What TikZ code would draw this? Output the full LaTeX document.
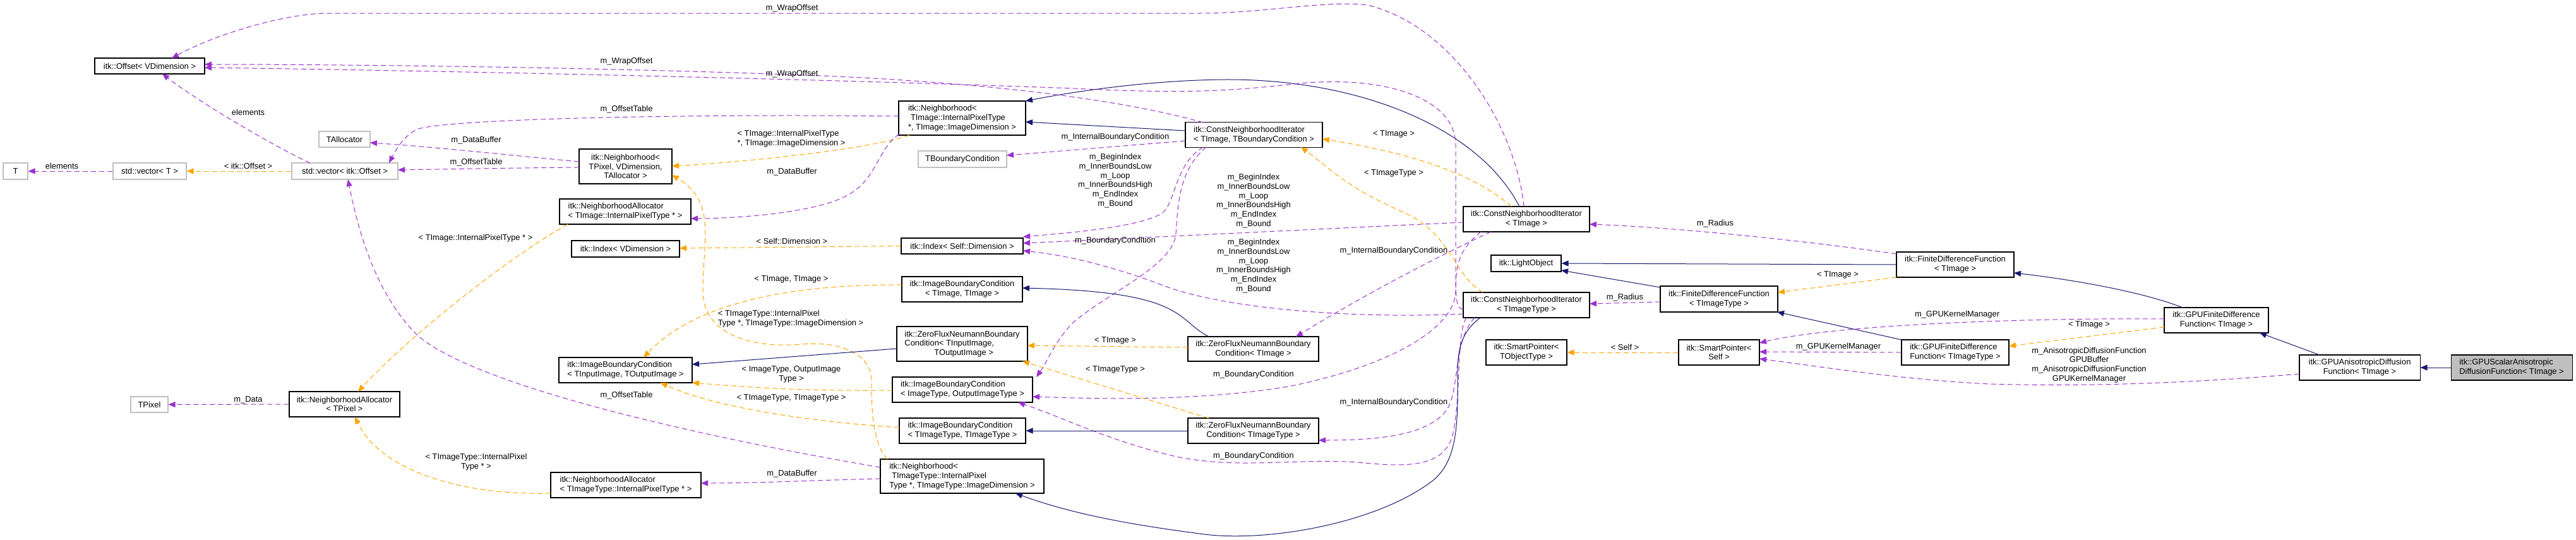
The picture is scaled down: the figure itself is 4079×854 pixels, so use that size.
\documentclass[tikz,border=0pt]{standalone}
\usepackage{fontspec}
\setmainfont{Liberation Sans}
\usetikzlibrary{arrows.meta}
\definecolor{pur}{HTML}{9A32CD}
\definecolor{org}{HTML}{FFA500}
\definecolor{nav}{HTML}{191970}
\definecolor{gry}{HTML}{BFBFBF}
\newcommand\dfont{\fontsize{12.9pt}{14.7pt}\selectfont}
\tikzset{
  box/.style={draw=black, line width=1.1pt, fill=white, inner sep=0pt, font=\dfont, align=center},
  lbox/.style={box, align=left},
  gbox/.style={box, draw=gry},
  fbox/.style={box, fill=gry, align=left},
  lab/.style={font=\dfont, inner sep=0pt, align=center},
  tip/.style={-{Triangle[length=11pt,width=9pt]}},
  inh/.style={draw=nav, line width=1pt, tip},
  use/.style={draw=pur, line width=1pt, dash pattern=on 8pt off 5pt, tip},
  tpl/.style={draw=org, line width=1pt, dash pattern=on 8pt off 5pt, tip},
}
\begin{document}
\begin{tikzpicture}[x=1pt,y=-1pt]
\useasboundingbox (0,0) rectangle (4079,854);
\fill[white] (0,0) rectangle (4079,854);
% ---------------- nodes
\node[box, minimum width=174pt, minimum height=25pt] (off) at (237,104.5) {itk::Offset< VDimension >};
\node[gbox, minimum width=81pt, minimum height=25pt] (talloc) at (545.5,220.5) {TAllocator};
\node[gbox, minimum width=39pt, minimum height=26pt] (T) at (24.5,271) {T};
\node[gbox, minimum width=116pt, minimum height=26pt] (vecT) at (237,271) {std::vector< T >};
\node[gbox, minimum width=168pt, minimum height=26pt] (vecOff) at (546,271) {std::vector< itk::Offset >};
\node[gbox, minimum width=59pt, minimum height=25pt] (tpixel) at (236.5,640.5) {TPixel};
\node[box, minimum width=175pt, minimum height=40pt] (naP) at (545.5,640) {itk::NeighborhoodAllocator\\< TPixel >};
\node[box, minimum width=147pt, minimum height=55pt] (nbP) at (990.5,263.5) {itk::Neighborhood<\\ TPixel, VDimension,\\ TAllocator >};
\node[lbox, minimum width=208pt, minimum height=40pt] (naI) at (990,335) {itk::NeighborhoodAllocator\\< TImage::InternalPixelType * >};
\node[box, minimum width=171pt, minimum height=26pt] (idxV) at (990.5,394) {itk::Index< VDimension >};
\node[lbox, minimum width=211pt, minimum height=40pt] (ibcIO) at (990.5,586) {itk::ImageBoundaryCondition\\< TInputImage, TOutputImage >};
\node[lbox, minimum width=238pt, minimum height=40pt] (naT) at (991,768) {itk::NeighborhoodAllocator\\< TImageType::InternalPixelType * >};
\node[lbox, minimum width=201pt, minimum height=54pt] (nbI) at (1523.5,187) {itk::Neighborhood<\\\hspace*{4pt}TImage::InternalPixelType\\*, TImage::ImageDimension >};
\node[gbox, minimum width=140pt, minimum height=26pt] (tbc) at (1524,252) {TBoundaryCondition};
\node[lbox, minimum width=217pt, minimum height=40pt] (cniIB) at (1985.5,213.5) {itk::ConstNeighborhoodIterator\\< TImage, TBoundaryCondition >};
\node[box, minimum width=193pt, minimum height=25pt] (idxS) at (1523.5,389.5) {itk::Index< Self::Dimension >};
\node[box, minimum width=191pt, minimum height=40pt] (ibcII) at (1523.5,458) {itk::ImageBoundaryCondition\\< TImage, TImage >};
\node[lbox, minimum width=207pt, minimum height=55pt] (zfIO) at (1523.5,544.5) {itk::ZeroFluxNeumannBoundary\\Condition< TInputImage,\\\hspace*{47pt}TOutputImage >};
\node[box, minimum width=207pt, minimum height=39pt] (zfI) at (1984.5,552.5) {itk::ZeroFluxNeumannBoundary\\Condition< TImage >};
\node[lbox, minimum width=222pt, minimum height=40pt] (ibcOO) at (1524,617) {itk::ImageBoundaryCondition\\< ImageType, OutputImageType >};
\node[lbox, minimum width=200pt, minimum height=40pt] (ibcTT) at (1524,682) {itk::ImageBoundaryCondition\\< TImageType, TImageType >};
\node[box, minimum width=207pt, minimum height=40pt] (zfT) at (1984.5,682) {itk::ZeroFluxNeumannBoundary\\Condition< TImageType >};
\node[lbox, minimum width=259pt, minimum height=54pt] (nbT) at (1523.5,754) {itk::Neighborhood<\\\hspace*{4pt}TImageType::InternalPixel\\Type *, TImageType::ImageDimension >};
\node[box, minimum width=200pt, minimum height=40pt] (cniI) at (2417,347) {itk::ConstNeighborhoodIterator\\< TImage >};
\node[box, minimum width=111pt, minimum height=26pt] (light) at (2416.5,417) {itk::LightObject};
\node[box, minimum width=200pt, minimum height=40pt] (cniT) at (2417,483) {itk::ConstNeighborhoodIterator\\< TImageType >};
\node[box, minimum width=128pt, minimum height=40pt] (spT) at (2417,558) {itk::SmartPointer<\\TObjectType >};
\node[box, minimum width=186pt, minimum height=41pt] (fdfT) at (2722,473.5) {itk::FiniteDifferenceFunction\\< TImageType >};
\node[box, minimum width=128pt, minimum height=40pt] (spS) at (2722,558) {itk::SmartPointer<\\Self >};
\node[box, minimum width=186pt, minimum height=40pt] (fdfI) at (3096,419) {itk::FiniteDifferenceFunction\\< TImage >};
\node[lbox, minimum width=170pt, minimum height=40pt] (gfdfT) at (3096,558) {itk::GPUFiniteDifference\\Function< TImageType >};
\node[box, minimum width=165pt, minimum height=40pt] (gfdfI) at (3509.5,507) {itk::GPUFiniteDifference\\Function< TImage >};
\node[box, minimum width=191pt, minimum height=40pt] (gadf) at (3736.5,582) {itk::GPUAnisotropicDiffusion\\Function< TImage >};
\node[fbox, minimum width=192pt, minimum height=40pt] (gsad) at (3977,582) {itk::GPUScalarAnisotropic\\DiffusionFunction< TImage >};
% ---------------- edges
\draw[use] (vecT.west) -- (T.east);
\draw[tpl] (vecOff.west) -- (vecT.east);
\draw[use] ([shift={(-55,-13)}]vecOff.center) .. controls (440,235) and (320,165) .. ([shift={(20,12.5)}]off.center);
\draw[use] ([shift={(-73.5,-7.5)}]nbP.center) .. controls (800,245) and (680,232) .. ([shift={(40.5,5.5)}]talloc.center);
\draw[use] ([shift={(-73.5,1.5)}]nbP.center) .. controls (800,266) and (700,268) .. ([shift={(84,-2)}]vecOff.center);
\draw[use] (naP.west) -- (tpixel.east);
\draw[tpl] ([shift={(-91,20)}]naI.center) .. controls (800,410) and (640,540) .. ([shift={(21.5,-20)}]naP.center);
\draw[tpl] ([shift={(-119,13)}]naT.center) .. controls (720,785) and (600,740) .. ([shift={(16.5,20)}]naP.center);
\draw[tpl] ([shift={(-83.5,27)}]nbI.center) .. controls (1380,235) and (1200,255) .. ([shift={(73.5,-0.5)}]nbP.center);
\draw[tpl] ([shift={(-118.5,-27)}]nbT.center) .. controls (1380,700) and (1380,640) .. (1380,600) .. controls (1378,560) and (1330,540) .. (1270,545) .. controls (1190,552) and (1113,530) .. (1113,460) .. controls (1113,380) and (1135,320) .. ([shift={(73.5,13.5)}]nbP.center);
\draw[use] ([shift={(-129.5,4)}]nbT.center) .. controls (1300,760) and (1200,765) .. ([shift={(119,-3)}]naT.center);
\draw[use] ([shift={(-129.5,-14)}]nbT.center) .. controls (1100,690) and (750,610) .. (660,530) .. controls (600,470) and (570,380) .. ([shift={(5,13)}]vecOff.center);
\draw[use] ([shift={(-99.5,25)}]nbI.center) .. controls (1385,240) and (1390,290) .. (1330,315) .. controls (1270,340) and (1150,346) .. ([shift={(104,11)}]naI.center);
\draw[use] ([shift={(-100.5,-3)}]nbI.center) .. controls (1100,180) and (700,188) .. (660,205) .. controls (640,215) and (628,235) .. ([shift={(70,-13)}]vecOff.center);
\draw[inh] ([shift={(-108.5,-6.5)}]cniIB.center) -- ([shift={(100.5,6)}]nbI.center);
\draw[inh] ([shift={(-11,-20)}]cniI.center) .. controls (2340,200) and (2150,125) .. (1940,126) .. controls (1820,127) and (1700,145) .. ([shift={(100.5,-27)}]nbI.center);
\draw[use] ([shift={(-108.5,9.5)}]cniIB.center) -- ([shift={(70,-6)}]tbc.center);
\draw[use] ([shift={(-80.5,-19.5)}]cniIB.center) .. controls (1750,150) and (1500,128) .. (1300,120) .. controls (1000,108) and (600,102) .. ([shift={(87,-2.5)}]off.center);
\draw[use] ([shift={(-100,7)}]cniT.center) .. controls (2305,488) and (2305,470) .. (2305,430) -- (2305,230) .. controls (2305,150) and (2180,120) .. (2060,132) .. controls (1960,142) and (1900,150) .. (1700,140) .. controls (1300,125) and (700,112) .. ([shift={(87,2.5)}]off.center);
\draw[use] ([shift={(-4,-20)}]cniI.center) .. controls (2400,200) and (2300,40) .. (2165,8) .. controls (2100,0) and (2000,21) .. (1900,21) -- (520,21) .. controls (450,21) and (340,55) .. ([shift={(35,-12.5)}]off.center);
\draw[use] ([shift={(-80.5,19.5)}]cniIB.center) .. controls (1860,260) and (1862,320) .. (1840,338) .. controls (1800,360) and (1700,368) .. ([shift={(96.5,-14.5)}]idxS.center);
\draw[use] ([shift={(-75.5,19.5)}]cniIB.center) .. controls (1865,270) and (1865,330) .. (1862,370) .. controls (1858,420) and (1760,460) .. (1700,510) .. controls (1670,540) and (1660,570) .. ([shift={(117,-20)}]ibcOO.center);
\draw[use] ([shift={(-100,5)}]cniI.center) .. controls (2100,362) and (1800,377) .. ([shift={(96.5,-4.5)}]idxS.center);
\draw[use] ([shift={(-100,14)}]cniT.center) .. controls (2150,505) and (1950,490) .. (1850,455) .. controls (1780,428) and (1700,405) .. ([shift={(96.5,7.5)}]idxS.center);
\draw[use] ([shift={(-56,20)}]cniI.center) .. controls (2300,395) and (2180,455) .. ([shift={(67.5,-19.5)}]zfI.center);
\draw[use] ([shift={(-72,20)}]cniI.center) .. controls (2310,395) and (2305,420) .. (2305,460) .. controls (2305,520) and (2200,580) .. (2040,612) .. controls (1900,635) and (1750,632) .. ([shift={(111,11)}]ibcOO.center);
\draw[use] ([shift={(-95,20)}]cniT.center) .. controls (2305,530) and (2315,620) .. (2300,690) .. controls (2285,740) and (2230,740) .. (2150,732) .. controls (2050,725) and (1950,745) .. (1850,720) .. controls (1750,695) and (1680,660) .. ([shift={(88,20)}]ibcOO.center);
\draw[use] ([shift={(-82,20)}]cniT.center) .. controls (2300,540) and (2312,620) .. (2290,650) .. controls (2260,690) and (2180,697) .. ([shift={(103.5,15)}]zfT.center);
\draw[inh] ([shift={(-73,20)}]cniT.center) .. controls (2315,525) and (2307,550) .. (2308,600) .. controls (2309,680) and (2305,730) .. (2270,760) .. controls (2180,830) and (2000,860) .. (1900,845) .. controls (1800,832) and (1700,815) .. ([shift={(84.5,27)}]nbT.center);
\draw[tpl] ([shift={(-24,-20)}]cniI.center) .. controls (2340,280) and (2250,245) .. ([shift={(108.5,6.5)}]cniIB.center);
\draw[tpl] ([shift={(-69,-20)}]cniT.center) .. controls (2300,435) and (2300,370) .. (2220,335) .. controls (2130,295) and (2110,270) .. ([shift={(74.5,19.5)}]cniIB.center);
\draw[inh] ([shift={(-70.5,-19.5)}]zfI.center) .. controls (1860,505) and (1880,462) .. ([shift={(95.5,-2)}]ibcII.center);
\draw[tpl] ([shift={(-103.5,-2.5)}]zfI.center) -- ([shift={(103.5,2.5)}]zfIO.center);
\draw[tpl] ([shift={(-95.5,-7)}]ibcII.center) .. controls (1250,450) and (1100,480) .. ([shift={(28.5,-20)}]ibcIO.center);
\draw[inh] ([shift={(-103.5,7.5)}]zfIO.center) -- ([shift={(105.5,-9)}]ibcIO.center);
\draw[tpl] ([shift={(-111,1)}]ibcOO.center) .. controls (1250,620) and (1150,610) .. ([shift={(105.5,20)}]ibcIO.center);
\draw[tpl] ([shift={(-100,-5)}]ibcTT.center) .. controls (1250,665) and (1120,640) .. ([shift={(55.5,20)}]ibcIO.center);
\draw[inh] (zfT.west) -- (ibcTT.east);
\draw[tpl] ([shift={(-70.5,-20)}]zfT.center) -- ([shift={(95.5,27.5)}]zfIO.center);
\draw[tpl] (idxS.west) -- ([shift={(85.5,-1)}]idxV.center);
\draw[use] ([shift={(-93,-17)}]fdfI.center) .. controls (2850,380) and (2650,360) .. ([shift={(100,8)}]cniI.center);
\draw[inh] (fdfI.west) -- (light.east);
\draw[inh] ([shift={(-93,-18.5)}]fdfT.center) -- ([shift={(55.5,11)}]light.center);
\draw[use] ([shift={(-93,4.5)}]fdfT.center) -- ([shift={(100,-2)}]cniT.center);
\draw[tpl] (spS.west) -- (spT.east);
\draw[tpl] ([shift={(-93,20)}]fdfI.center) -- ([shift={(93,-10.5)}]fdfT.center);
\draw[inh] ([shift={(-85,-20)}]gfdfT.center) -- ([shift={(92,20.5)}]fdfT.center);
\draw[use] (gfdfT.west) -- ([shift={(64,-1)}]spS.center);
\draw[use] ([shift={(-82.5,-2)}]gfdfI.center) .. controls (3200,503) and (2900,515) .. ([shift={(64,-15)}]spS.center);
\draw[tpl] ([shift={(-82.5,11)}]gfdfI.center) -- ([shift={(85,-10)}]gfdfT.center);
\draw[inh] ([shift={(-53.5,-20)}]gfdfI.center) .. controls (3400,465) and (3300,445) .. ([shift={(93,13)}]fdfI.center);
\draw[inh] ([shift={(-63.5,-20)}]gadf.center) -- ([shift={(68.5,20)}]gfdfI.center);
\draw[use] ([shift={(-95.5,10)}]gadf.center) .. controls (3450,608) and (3300,612) .. (3150,608) .. controls (3000,600) and (2880,580) .. ([shift={(64,10)}]spS.center);
\draw[inh] (gsad.west) -- (gadf.east);
% ---------------- labels
\node[lab] (l1) at (98,263) {elements};
\node[lab] (l2) at (393,263) {< itk::Offset >};
\node[lab] (l3) at (393,178) {elements};
\node[lab] (l4) at (754,222) {m\_DataBuffer};
\node[lab] (l5) at (754,257) {m\_OffsetTable};
\node[lab] (l6) at (753,377) {< TImage::InternalPixelType * >};
\node[lab] (l7) at (393,633) {m\_Data};
\node[lab] (l8) at (754,732) {< TImageType::InternalPixel\\Type * >};
\node[lab] (l9) at (992,626) {m\_OffsetTable};
\node[lab, align=left] (l10) at (1253,220) {< TImage::InternalPixelType\\*, TImage::ImageDimension >};
\node[lab] (l11) at (1254,272) {m\_DataBuffer};
\node[lab] (l12) at (1254,382) {< Self::Dimension >};
\node[lab] (l13) at (1253,442) {< TImage, TImage >};
\node[lab] (l14) at (1253,593) {< ImageType, OutputImage\\Type >};
\node[lab] (l15) at (1253,630) {< TImageType, TImageType >};
\node[lab, align=left] (l16) at (1252,505) {< TImageType::InternalPixel\\Type *, TImageType::ImageDimension >};
\node[lab] (l17) at (1254,750) {m\_DataBuffer};
\node[lab] (l18) at (1254,13) {m\_WrapOffset};
\node[lab] (l19) at (992,97) {m\_WrapOffset};
\node[lab] (l20) at (1254,117) {m\_WrapOffset};
\node[lab] (l21) at (992,173) {m\_OffsetTable};
\node[lab] (l22) at (1766,217) {m\_InternalBoundaryCondition};
\node[lab] (l23) at (1766,286) {m\_BeginIndex\\m\_InnerBoundsLow\\m\_Loop\\m\_InnerBoundsHigh\\m\_EndIndex\\m\_Bound};
\node[lab] (l24) at (1766,381) {m\_BoundaryCondition};
\node[lab] (l25) at (1985,318) {m\_BeginIndex\\m\_InnerBoundsLow\\m\_Loop\\m\_InnerBoundsHigh\\m\_EndIndex\\m\_Bound};
\node[lab] (l26) at (1985,421) {m\_BeginIndex\\m\_InnerBoundsLow\\m\_Loop\\m\_InnerBoundsHigh\\m\_EndIndex\\m\_Bound};
\node[lab] (l27) at (1766,539) {< TImage >};
\node[lab] (l28) at (1766,585) {< TImageType >};
\node[lab] (l29) at (1985,593) {m\_BoundaryCondition};
\node[lab] (l30) at (1985,722) {m\_BoundaryCondition};
\node[lab] (l31) at (2207,212) {< TImage >};
\node[lab] (l32) at (2207,274) {< TImageType >};
\node[lab] (l33) at (2207,397) {m\_InternalBoundaryCondition};
\node[lab] (l34) at (2207,637) {m\_InternalBoundaryCondition};
\node[lab] (l35) at (2716,354) {m\_Radius};
\node[lab] (l36) at (2573,471) {m\_Radius};
\node[lab] (l37) at (2573,550) {< Self >};
\node[lab] (l38) at (2910,435) {< TImage >};
\node[lab] (l39) at (3099,498) {m\_GPUKernelManager};
\node[lab] (l40) at (2911,549) {m\_GPUKernelManager};
\node[lab] (l41) at (3308,514) {< TImage >};
\node[lab] (l42) at (3308,578) {m\_AnisotropicDiffusionFunction\\GPUBuffer\\m\_AnisotropicDiffusionFunction\\GPUKernelManager};
\end{tikzpicture}
\end{document}
